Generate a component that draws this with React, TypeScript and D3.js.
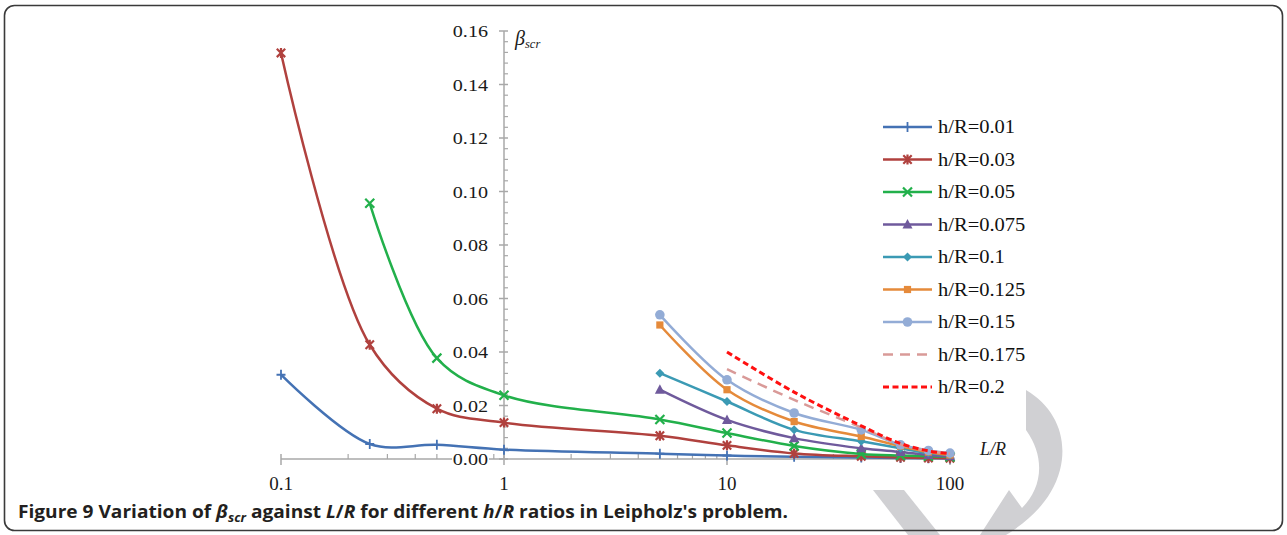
import React from "react";
import * as d3 from "d3";

// L/R sample positions used by the different h/R series
const lrFull = [0.1, 0.25, 0.5, 1, 5, 10, 20, 40, 60, 80, 100];
const lrGreen = [0.25, 0.5, 1, 5, 10, 20, 40, 60, 80, 100];
const lrShort = [5, 10, 20, 40, 60, 80, 100];
const lrDashed = [10, 20, 40, 60, 80, 100];

// beta_scr values per h/R ratio
const beta001 = [0.0315, 0.0056, 0.0053, 0.0035, 0.002, 0.0013, 0.0008, 0.0006, 0.0004, 0.0003, 0.0002];
const beta003 = [0.1518, 0.0427, 0.0188, 0.0136, 0.0087, 0.0051, 0.0021, 0.001, 0.0006, 0.0004, 0.0003];
const beta005 = [0.0956, 0.0377, 0.0238, 0.0148, 0.0097, 0.0049, 0.0019, 0.0013, 0.001, 0.0008];
const beta0075 = [0.0259, 0.0146, 0.0078, 0.004, 0.0026, 0.0015, 0.001];
const beta01 = [0.0321, 0.0215, 0.0109, 0.0066, 0.004, 0.0022, 0.0014];
const beta0125 = [0.0501, 0.0259, 0.014, 0.0084, 0.0048, 0.0026, 0.0015];
const beta015 = [0.0539, 0.0296, 0.0172, 0.0109, 0.0053, 0.0032, 0.0022];
const beta0175 = [0.0336, 0.0221, 0.0118, 0.0054, 0.003, 0.002];
const beta02 = [0.04, 0.025, 0.0124, 0.0058, 0.003, 0.002];

const yTicks = [0, 0.02, 0.04, 0.06, 0.08, 0.1, 0.12, 0.14, 0.16];
const xTicks = [0.1, 1, 10, 100];
const xTickLabels = ["0.1", "1", "10", "100"];

type Marker = "plus" | "star" | "cross" | "triangle" | "diamond" | "square" | "circle" | "none";

interface Series {
  label: string;
  xs: number[];
  ys: number[];
  color: string;
  marker: Marker;
  dash?: string;
  width: number;
}

const series: Series[] = [
  { label: "h/R=0.01", xs: lrFull, ys: beta001, color: "#4472b4", marker: "plus", width: 2.5 },
  { label: "h/R=0.03", xs: lrFull, ys: beta003, color: "#b0413e", marker: "star", width: 2.5 },
  { label: "h/R=0.05", xs: lrGreen, ys: beta005, color: "#22b04b", marker: "cross", width: 2.5 },
  { label: "h/R=0.075", xs: lrShort, ys: beta0075, color: "#6f5a9c", marker: "triangle", width: 2.5 },
  { label: "h/R=0.1", xs: lrShort, ys: beta01, color: "#3b9ab4", marker: "diamond", width: 2.5 },
  { label: "h/R=0.125", xs: lrShort, ys: beta0125, color: "#e58a3a", marker: "square", width: 2.5 },
  { label: "h/R=0.15", xs: lrShort, ys: beta015, color: "#93acd6", marker: "circle", width: 2.5 },
  { label: "h/R=0.175", xs: lrDashed, ys: beta0175, color: "#d99a98", marker: "none", dash: "10,7", width: 2.5 },
  { label: "h/R=0.2", xs: lrDashed, ys: beta02, color: "#ff1010", marker: "none", dash: "6,3.5", width: 3 },
];

const W = 1287;
const H = 535;
const SERIF = "'Liberation Serif', 'Times New Roman', serif";

const x = d3.scaleLog().domain([0.1, 100]).range([281, 950]);
const y = d3.scaleLinear().domain([0, 0.16]).range([459, 31]);
const axisX = x(1);
const axisY = y(0);

const line = d3
  .line<[number, number]>()
  .x((d) => x(d[0]))
  .y((d) => y(d[1]))
  .curve(d3.curveCatmullRom.alpha(0.5));

function MarkerShape({ type, color, cx, cy }: { type: Marker; color: string; cx: number; cy: number }) {
  const t = `translate(${cx},${cy})`;
  switch (type) {
    case "plus":
      return <path transform={t} d="M-4.5,0H4.5M0,-5V5" stroke={color} strokeWidth={1.8} />;
    case "star":
      return <path transform={t} d="M-4.2,-4.2L4.2,4.2M-4.2,4.2L4.2,-4.2M0,-5V5" stroke={color} strokeWidth={2.2} />;
    case "cross":
      return <path transform={t} d="M-4.5,-4.5L4.5,4.5M-4.5,4.5L4.5,-4.5" stroke={color} strokeWidth={2.2} />;
    case "triangle":
      return <polygon transform={t} points="0,-5.5 5,4 -5,4" fill={color} />;
    case "diamond":
      return <polygon transform={t} points="0,-4.5 4.5,0 0,4.5 -4.5,0" fill={color} />;
    case "square":
      return <rect transform={t} x={-3.6} y={-3.6} width={7.2} height={7.2} fill={color} />;
    case "circle":
      return <circle cx={cx} cy={cy} r={4.8} fill={color} />;
    default:
      return null;
  }
}

// text with a slight horizontal stretch, as in the original figure's typesetting
function WideText({
  x: tx,
  y: ty,
  sx,
  anchor,
  size,
  children,
  fill = "#1a1a1a",
}: {
  x: number;
  y: number;
  sx: number;
  anchor: "start" | "middle" | "end";
  size: number;
  children: React.ReactNode;
  fill?: string;
}) {
  return (
    <text
      transform={`translate(${tx},${ty}) scale(${sx},1)`}
      textAnchor={anchor}
      fontFamily={SERIF}
      fontSize={size}
      fill={fill}
    >
      {children}
    </text>
  );
}

export default function App() {
  const yMinor = d3.range(0, 0.1601, 0.004).filter((v) => Math.abs(v / 0.02 - Math.round(v / 0.02)) > 1e-6);
  const xMinor: number[] = [];
  [0.1, 1, 10].forEach((d) => {
    for (let k = 2; k <= 9; k++) xMinor.push(d * k);
  });

  const legendX0 = 883;
  const legendX1 = 932;
  const legendY0 = 127;
  const legendStep = 32.5;

  return (
    <div style={{ position: "absolute", left: 0, top: 0 }}>
      <svg width={W} height={H} viewBox={`0 0 ${W} ${H}`} style={{ display: "block", background: "#fff" }}>
        {/* background watermark shapes */}
        <g fill="#d0d0d3">
          <path d="M1026,390 C1056,408 1068,438 1060,470 C1052,500 1030,520 1006,535 L980,535 L1009,490 L1022,508 C1042,488 1046,458 1026,430 Z" />
          <path d="M873,490 L904,490 L940,535 L908,535 Z" />
        </g>

        {/* frame */}
        <rect x={4.5} y={5.5} width={1278} height={525} rx={10} fill="none" stroke="#3a3a3a" strokeWidth={1.6} />

        {/* x axis */}
        <line x1={x(0.1)} x2={x(100)} y1={axisY} y2={axisY} stroke="#a8a8a8" strokeWidth={1.5} />
        {xMinor.map((v) => (
          <line key={`xm${v}`} x1={x(v)} x2={x(v)} y1={axisY - 5} y2={axisY} stroke="#a8a8a8" strokeWidth={1.2} />
        ))}
        {xTicks.map((v) => (
          <line key={`xM${v}`} x1={x(v)} x2={x(v)} y1={axisY - 5} y2={axisY + 6} stroke="#a8a8a8" strokeWidth={1.5} />
        ))}

        {/* y axis */}
        <line x1={axisX} x2={axisX} y1={y(0.16)} y2={axisY} stroke="#a8a8a8" strokeWidth={1.5} />
        {yMinor.map((v) => (
          <line key={`ym${v}`} x1={axisX} x2={axisX + 4} y1={y(v)} y2={y(v)} stroke="#a8a8a8" strokeWidth={1.2} />
        ))}
        {yTicks.map((v) => (
          <line key={`yM${v}`} x1={axisX - 5} x2={axisX + 4} y1={y(v)} y2={y(v)} stroke="#a8a8a8" strokeWidth={1.5} />
        ))}
        {yTicks.map((v) => (
          <g key={`yl${v}`}>
            <rect x={452} y={y(v) - 8} width={37} height={15} fill="#fff" />
            <WideText x={488} y={y(v) + 6} sx={1.15} anchor="end" size={17.5}>
              {v.toFixed(2)}
            </WideText>
          </g>
        ))}

        {xTicks.map((v, i) => (
          <text
            key={`xl${v}`}
            x={x(v)}
            y={490}
            textAnchor="middle"
            fontFamily={SERIF}
            fontSize={19}
            fill="#1a1a1a"
          >
            {xTickLabels[i]}
          </text>
        ))}

        {/* axis titles */}
        <text x={515} y={45} fontFamily={SERIF} fontStyle="italic" fontSize={20} fill="#1a1a1a">
          β
          <tspan fontSize={12.5} dy={3}>
            scr
          </tspan>
        </text>
        <text x={980} y={455} fontFamily={SERIF} fontStyle="italic" fontSize={18} fill="#1a1a1a">
          L/R
        </text>

        {/* series */}
        {series.map((s) => {
          const pts: [number, number][] = s.xs.map((v, i) => [v, s.ys[i]]);
          return (
            <g key={s.label}>
              <path
                d={line(pts) ?? ""}
                fill="none"
                stroke={s.color}
                strokeWidth={s.width}
                strokeDasharray={s.dash}
                strokeLinejoin="round"
              />
              {pts.map((p, i) => (
                <MarkerShape key={i} type={s.marker} color={s.color} cx={x(p[0])} cy={y(p[1])} />
              ))}
            </g>
          );
        })}

        {/* legend */}
        {series.map((s, i) => {
          const ly = legendY0 + i * legendStep;
          return (
            <g key={`lg${s.label}`}>
              <line
                x1={legendX0}
                x2={legendX1}
                y1={ly}
                y2={ly}
                stroke={s.color}
                strokeWidth={s.width}
                strokeDasharray={s.dash}
              />
              <MarkerShape type={s.marker} color={s.color} cx={(legendX0 + legendX1) / 2} cy={ly} />
              <WideText x={938} y={ly + 6} sx={1.14} anchor="start" size={18} fill="#111">
                {s.label}
              </WideText>
            </g>
          );
        })}

        {/* caption */}
        <text
          x={18}
          y={518}
          fontFamily="'Open Sans', 'Noto Sans', sans-serif"
          fontWeight={700}
          fontSize={17.5}
          fill="#231f20"
          textLength={770}
          lengthAdjust="spacingAndGlyphs"
        >
          <tspan>Figure 9 </tspan>
          <tspan>Variation of </tspan>
          <tspan fontStyle="italic">β</tspan>
          <tspan fontStyle="italic" fontSize={12} dy={4}>
            scr
          </tspan>
          <tspan dy={-4}> against </tspan>
          <tspan fontStyle="italic">L</tspan>
          <tspan>/</tspan>
          <tspan fontStyle="italic">R</tspan>
          <tspan> for different </tspan>
          <tspan fontStyle="italic">h</tspan>
          <tspan>/</tspan>
          <tspan fontStyle="italic">R</tspan>
          <tspan> ratios in Leipholz's problem.</tspan>
        </text>
      </svg>
    </div>
  );
}
